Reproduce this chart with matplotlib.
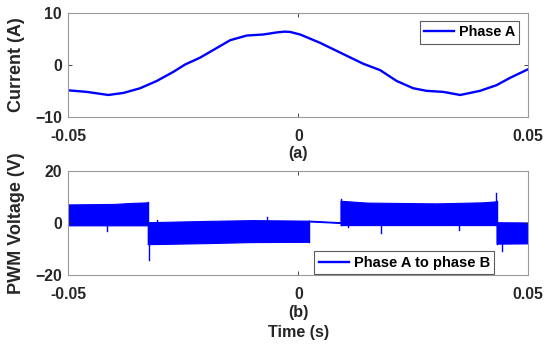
import numpy as np
import matplotlib.pyplot as plt

plt.rcParams['font.family'] = 'Liberation Sans'
plt.rcParams['font.weight'] = 'bold'
plt.rcParams['axes.labelweight'] = 'bold'

# phase A current (s, A)
t_cur = [-0.05, -0.0460, -0.0413, -0.0380, -0.0344, -0.0308, -0.0272, -0.0246,
         -0.0214, -0.0177, -0.0148, -0.0112, -0.0076, -0.0047, -0.0030, -0.0018,
         0.0004, 0.0047, 0.0098, 0.0141, 0.0178, 0.0214, 0.0250, 0.0279,
         0.0315, 0.0352, 0.0395, 0.0431, 0.0460, 0.05]
i_cur = [-4.9, -5.2, -5.8, -5.4, -4.5, -3.1, -1.35, 0.1,
         1.4, 3.3, 4.8, 5.7, 5.9, 6.3, 6.45, 6.4,
         5.9, 4.3, 2.1, 0.25, -1.0, -3.1, -4.5, -5.0,
         -5.2, -5.8, -5.0, -3.9, -2.5, -0.8]

# PWM line voltage envelope, one list per switching interval
env_t = [[-0.05, -0.040, -0.036, -0.0327],
         [-0.0327, -0.020, -0.010, 0.0023],
         [0.0023, 0.0092],
         [0.0092, 0.015, 0.030, 0.040, 0.0431],
         [0.0431, 0.05]]
env_hi = [[7.1, 7.3, 7.7, 7.9],
          [0.3, 0.8, 1.1, 0.9],
          [0.9, 0.3],
          [8.5, 7.8, 7.5, 7.9, 8.3],
          [0.3, 0.2]]
env_lo = [[-0.9, -0.9, -0.9, -0.9],
          [-8.1, -7.7, -7.3, -7.2],
          [0.6, 0.0],
          [-0.8, -0.8, -0.8, -0.8, -0.8],
          [-7.9, -7.8]]

# switching spikes (s, V)
spike_t = [-0.0415, -0.0325, -0.0307, -0.0069, 0.0092, 0.0109, 0.0179, 0.0349, 0.0430, 0.0442]
spike_v = [-3.0, -14.2, 1.1, 2.4, 9.0, -1.5, -4.0, -2.5, 11.3, -10.7]

blue = '#0000ff'
gray = '#262626'
W, H = 547, 345

fig = plt.figure(figsize=(W / 100, H / 100), dpi=100)
ax1 = fig.add_axes([68.3 / W, 1 - 116.7 / H, 460 / W, 103.4 / H])
ax2 = fig.add_axes([68.3 / W, 1 - 275.3 / H, 460 / W, 104.6 / H])

ax1.plot(t_cur, i_cur, color=blue, lw=1.7, label='Phase A')
ax1.set_ylim(-10, 10)
ax1.set_yticks([-10, 0, 10])
ax1.set_ylabel('Current (A)', fontsize=13)
ax1.set_xlabel('(a)', fontsize=11.6)
ax1.xaxis.set_label_coords(0.5, -0.283)
ax1.yaxis.set_label_coords(-0.094, 0.5)
leg1 = ax1.legend(loc='upper right', fontsize=10.4, handlelength=2.1,
                  handletextpad=0.3, fancybox=False, edgecolor='#333333',
                  borderpad=0.3, borderaxespad=0, bbox_to_anchor=(0.98, 0.925))
leg1.get_frame().set_linewidth(0.8)

for ts, hi, lo in zip(env_t, env_hi, env_lo):
    ax2.fill_between(ts, lo, hi, color=blue, lw=0.8, edgecolor=blue)
for k in range(len(env_t) - 1):
    tk = env_t[k][-1]
    ax2.plot([tk, tk], [min(env_lo[k][-1], env_lo[k + 1][0]),
                        max(env_hi[k][-1], env_hi[k + 1][0])], color=blue, lw=1.0)
for ts, vs in zip(spike_t, spike_v):
    ax2.plot([ts, ts], [0, vs], color=blue, lw=1.0)
ax2.plot([], [], color=blue, lw=1.7, label='Phase A to phase B')
ax2.set_ylim(-20, 20)
ax2.set_yticks([-20, 0, 20])
ax2.set_ylabel('PWM Voltage (V)', fontsize=13)
ax2.set_xlabel('(b)\nTime (s)', fontsize=11.6, linespacing=1.4)
ax2.xaxis.set_label_coords(0.5, -0.285)
ax2.yaxis.set_label_coords(-0.094, 0.5)
leg2 = ax2.legend(loc='lower right', fontsize=10.5, handlelength=2.1,
                  handletextpad=0.3, fancybox=False, edgecolor='#333333',
                  borderpad=0.3, borderaxespad=0, bbox_to_anchor=(0.926, 0.012))
leg2.get_frame().set_linewidth(0.8)

for ax in (ax1, ax2):
    ax.set_xlim(-0.05, 0.05)
    ax.set_xticks([-0.05, 0, 0.05])
    ax.set_xticklabels(['-0.05', '0', '0.05'])
    ax.tick_params(direction='in', top=True, right=True, length=3,
                   labelsize=11.4, colors=gray, labelcolor=gray, pad=4.5, width=0.6)
    ax.tick_params(axis='x', pad=8.5)
    for s in ax.spines.values():
        s.set_color('#9a9a9a')
        s.set_linewidth(0.8)
    ax.xaxis.label.set_color(gray)
    ax.yaxis.label.set_color(gray)

fig.savefig('out.png', dpi=100)
